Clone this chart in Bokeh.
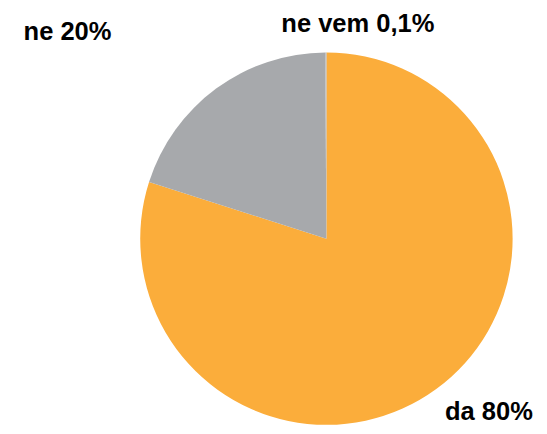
import math
from bokeh.plotting import figure
from bokeh.models import Range1d, ColumnDataSource
from bokeh.core.properties import value
from bokeh.embed import file_html
from bokeh.resources import INLINE

categories = ["da", "ne", "ne vem"]
shares = [80, 20, 0.1]
label_texts = ["da 80%", "ne 20%", "ne vem 0,1%"]
colors = ["#FBAD3B", "#A7A9AC", "#B5B6B9"]

total = sum(shares)
starts, ends = [], []
cum = 0.0
for s in shares:
    starts.append(math.pi / 2 - 2 * math.pi * cum / total)
    cum += s
    ends.append(math.pi / 2 - 2 * math.pi * cum / total)

W, H = 539, 426
S = 0.98          # slight uniform scale so everything fits the figure
X0 = 273


def tx(px):
    return X0 + (px - X0) * S


def ty(py):
    return H - py * S


p = figure(width=W, height=H, output_backend="svg", toolbar_location=None,
           x_range=Range1d(0, W), y_range=Range1d(0, H), min_border=0)
p.axis.visible = False
p.grid.visible = False
p.outline_line_color = None
p.background_fill_color = "white"

src = ColumnDataSource(dict(cat=categories, start=starts, end=ends, color=colors))
p.wedge(x=tx(327), y=ty(243), radius=190 * S, start_angle="start", end_angle="end",
        direction="clock", fill_color="color", line_color=None, source=src)

# label placement (layout): left x, vertical middle y
lx = [tx(448), tx(18), tx(281)]
ly = [ty(419), ty(31.5), ty(22.5)]
lsrc = ColumnDataSource(dict(x=lx, y=ly, t=label_texts))
p.text(x="x", y="y", text="t", source=lsrc, text_font=value("Liberation Sans"),
       text_font_style="bold", text_font_size="25.5px", text_color="black",
       text_baseline="middle", text_align="left")

open("out.html", "w").write(file_html(p, INLINE))
